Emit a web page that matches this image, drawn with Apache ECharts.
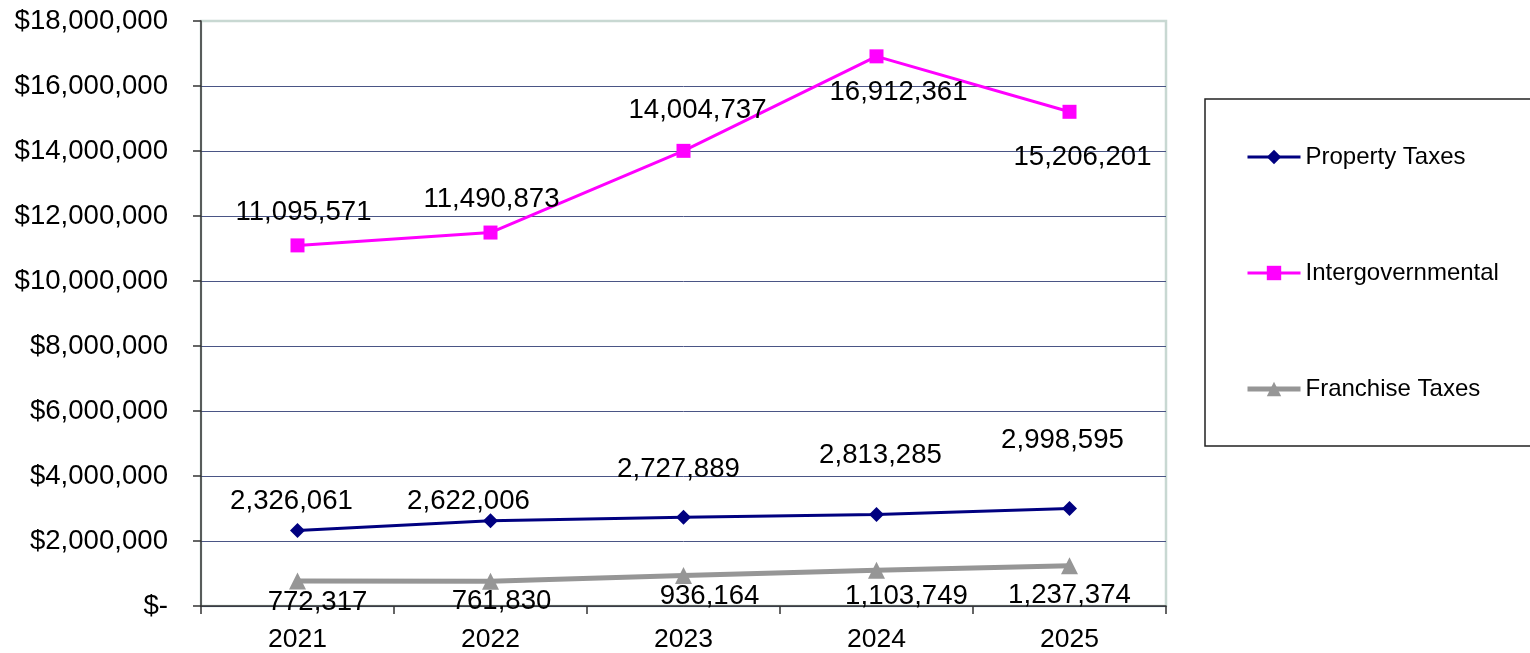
<!DOCTYPE html>
<html>
<head>
<meta charset="utf-8">
<script src="https://cdn.jsdelivr.net/npm/echarts@6/dist/echarts.min.js"></script>
<style>
html,body{margin:0;padding:0;background:#fff;}
#chart{width:1530px;height:653px;}
</style>
</head>
<body>
<div id="chart"></div>
<script>
const categories = ['2021', '2022', '2023', '2024', '2025'];
const propertyTaxes = [2326061, 2622006, 2727889, 2813285, 2998595];
const intergovernmental = [11095571, 11490873, 14004737, 16912361, 15206201];
const franchiseTaxes = [772317, 761830, 936164, 1103749, 1237374];
const seriesNames = ['Property Taxes', 'Intergovernmental', 'Franchise Taxes'];

// label placement offsets (px) relative to each point
const propertyLabelOffsets = [[-6,-29],[-22,-19],[-5,-48],[4,-59],[-7,-68]];
const interLabelOffsets = [[6,-33],[1,-33],[14,-40],[22,36],[13,46]];
const franchiseLabelOffsets = [[20,21],[11,20],[26,21],[30,26],[0,30]];

const FONT = '"Liberation Sans", Arial, sans-serif';
const fmt = v => v.toLocaleString('en-US');

function withLabels(values, offsets) {
  return values.map((v, i) => ({
    value: v,
    label: { offset: offsets[i] }
  }));
}

const chart = echarts.init(document.getElementById('chart'), null, { renderer: 'canvas' });

const gridColor = '#4a5585';
const borderColor = '#c8d8d2';
const splitColors = [];
for (let i = 0; i < 9; i++) splitColors.push(gridColor);
splitColors.push(borderColor);

const seriesColors = ['#000080', '#ff00ff', '#969696'];
const seriesWidths = [3, 3, 5];

const labelBase = {
  show: true,
  position: 'inside',
  color: '#000',
  fontFamily: FONT,
  fontSize: 27.6,
  formatter: p => fmt(p.value)
};

chart.setOption({
  animation: false,
  backgroundColor: '#fff',
  grid: {
    left: 201, right: 364, top: 21, bottom: 45,
    show: true, borderColor: borderColor, borderWidth: 2.5,
    backgroundColor: 'transparent'
  },
  graphic: [{
    type: 'rect',
    shape: { x: 1205, y: 99, width: 340, height: 347 },
    style: { fill: '#fff', stroke: '#222', lineWidth: 1.5 },
    z: -1
  }],
  legend: {
    orient: 'vertical',
    left: 1240,
    top: 140,
    itemWidth: 53,
    itemHeight: 18,
    itemGap: 92,
    textStyle: { fontFamily: FONT, fontSize: 24, color: '#000', lineHeight: 24 },
    data: seriesNames.map((n, i) => ({
      name: n,
      lineStyle: { width: seriesWidths[i], color: seriesColors[i] }
    }))
  },
  xAxis: {
    type: 'category',
    data: categories,
    boundaryGap: true,
    axisLine: { lineStyle: { color: '#333', width: 1.5 } },
    axisTick: { show: true, length: 8, lineStyle: { color: '#333', width: 1.5 } },
    axisLabel: { fontFamily: FONT, fontSize: 26.5, color: '#000', margin: 20 },
    splitLine: { show: false }
  },
  yAxis: {
    type: 'value',
    min: 0,
    max: 18000000,
    interval: 2000000,
    axisLine: { show: true, lineStyle: { color: '#333', width: 1.5 } },
    axisTick: { show: true, length: 8, lineStyle: { color: '#333', width: 1.5 } },
    axisLabel: {
      fontFamily: FONT, fontSize: 27.6, color: '#000', margin: 33,
      formatter: v => v === 0 ? '$-' : '$' + fmt(v)
    },
    splitLine: { show: true, lineStyle: { color: splitColors, width: 1 } }
  },
  series: [
    {
      name: seriesNames[0],
      type: 'line',
      data: withLabels(propertyTaxes, propertyLabelOffsets),
      symbol: 'diamond',
      symbolSize: 15,
      lineStyle: { color: seriesColors[0], width: seriesWidths[0] },
      itemStyle: { color: seriesColors[0] },
      label: labelBase,
      z: 3
    },
    {
      name: seriesNames[1],
      type: 'line',
      data: withLabels(intergovernmental, interLabelOffsets),
      symbol: 'rect',
      symbolSize: 14,
      lineStyle: { color: seriesColors[1], width: seriesWidths[1] },
      itemStyle: { color: seriesColors[1] },
      label: labelBase,
      z: 3
    },
    {
      name: seriesNames[2],
      type: 'line',
      data: withLabels(franchiseTaxes, franchiseLabelOffsets),
      symbol: 'triangle',
      symbolSize: 17,
      lineStyle: { color: seriesColors[2], width: seriesWidths[2] },
      itemStyle: { color: seriesColors[2] },
      label: labelBase,
      z: 3
    }
  ]
});
</script>
</body>
</html>
